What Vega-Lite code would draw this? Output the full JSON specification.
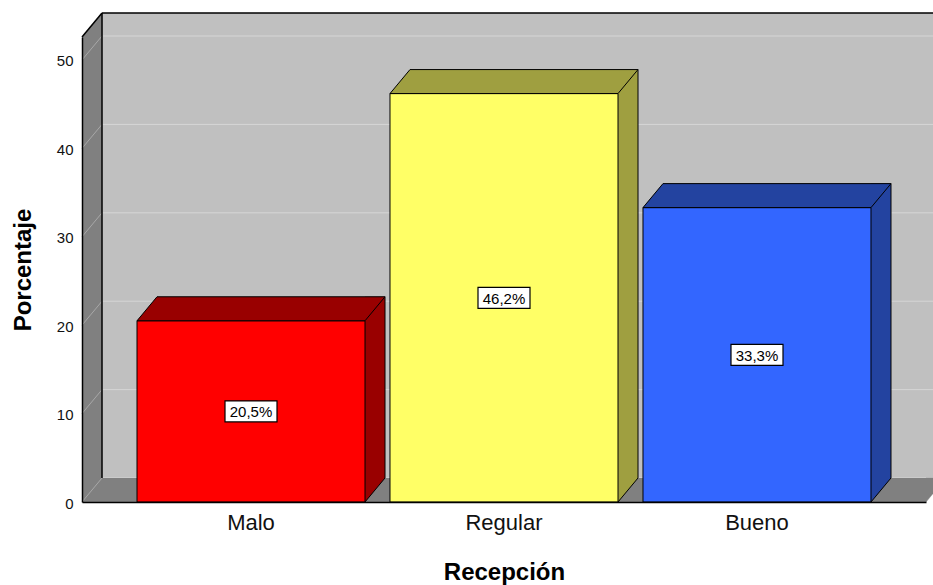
{
  "$schema": "https://vega.github.io/schema/vega-lite/v6.json",
  "width": 844,
  "height": 465,
  "autosize": {"type": "none"},
  "padding": {"left": 82, "top": 37, "right": 7, "bottom": 83},
  "background": "white",
  "config": {"view": {"stroke": null}, "font": "Liberation Sans"},
  "datasets": {
    "barras": [
      {"Recepcion": "Malo", "Porcentaje": 20.5, "Etiqueta": "20,5%"},
      {"Recepcion": "Regular", "Porcentaje": 46.2, "Etiqueta": "46,2%"},
      {"Recepcion": "Bueno", "Porcentaje": 33.3, "Etiqueta": "33,3%"}
    ],
    "rejilla": [{"valor": 0}, {"valor": 10}, {"valor": 20}, {"valor": 30}, {"valor": 40}, {"valor": 50}],
    "fondo": [{}]
  },
  "resolve": {"scale": {"x": "independent", "y": "independent"}},
  "layer": [
    {
      "layer": [
        {
          "data": {"name": "fondo"},
          "mark": {"type": "rect", "fill": "#c0c0c0", "xOffset": 20, "x2Offset": 20, "yOffset": -24, "y2Offset": -24},
          "encoding": {
            "x": {"datum": 0, "type": "quantitative", "scale": {"domain": [0, 1]}, "axis": null},
            "x2": {"datum": 1},
            "y": {"datum": 0, "type": "quantitative", "scale": {"domain": [0, 52.6], "nice": false}, "axis": null},
            "y2": {"datum": 52.6}
          }
        },
        {
          "data": {"name": "rejilla"},
          "mark": {"type": "rule", "color": "#d6d6d6", "strokeWidth": 1, "xOffset": 20, "x2Offset": 20, "yOffset": -24, "y2Offset": -24},
          "encoding": {
            "x": {"datum": 0, "type": "quantitative"},
            "x2": {"datum": 1},
            "y": {"field": "valor", "type": "quantitative"},
            "y2": {"field": "valor"}
          }
        },
        {
          "data": {"name": "fondo"},
          "mark": {"type": "rect", "fill": "#808080", "y2Offset": -24},
          "encoding": {
            "x": {"datum": 0, "type": "quantitative"},
            "x2": {"datum": 1},
            "y": {"datum": 0, "type": "quantitative"},
            "y2": {"datum": 0}
          }
        },
        {
          "data": {"name": "fondo"},
          "mark": {"type": "rect", "fill": "#808080", "x2Offset": 20},
          "encoding": {
            "x": {"datum": 0, "type": "quantitative"},
            "x2": {"datum": 0},
            "y": {"datum": 0, "type": "quantitative"},
            "y2": {"datum": 52.6}
          }
        },
        {
          "data": {"name": "fondo"},
          "mark": {"type": "point", "shape": "M0,0L20,-24L20,0Z", "size": 4, "filled": true, "fill": "#808080", "stroke": "#808080", "strokeWidth": 0.5, "opacity": 1},
          "encoding": {
            "x": {"datum": 0, "type": "quantitative"},
            "y": {"datum": 52.6, "type": "quantitative"}
          }
        },
        {
          "data": {"name": "fondo"},
          "mark": {"type": "point", "shape": "M0,0L20,-24L0,-24Z", "size": 4, "filled": true, "fill": "#808080", "stroke": "#808080", "strokeWidth": 0.5, "opacity": 1},
          "encoding": {
            "x": {"datum": 1, "type": "quantitative"},
            "y": {"datum": 0, "type": "quantitative"}
          }
        },
        {
          "data": {"name": "rejilla"},
          "mark": {"type": "rule", "color": "#a8a8a8", "strokeWidth": 1, "x2Offset": 20, "y2Offset": -24},
          "encoding": {
            "x": {"datum": 0, "type": "quantitative"},
            "x2": {"datum": 0},
            "y": {"field": "valor", "type": "quantitative"},
            "y2": {"field": "valor"}
          }
        },
        {
          "data": {"name": "fondo"},
          "mark": {"type": "rule", "color": "black", "strokeWidth": 1.5, "x2Offset": 20, "y2Offset": -24},
          "encoding": {
            "x": {"datum": 0, "type": "quantitative"},
            "x2": {"datum": 0},
            "y": {"datum": 52.6, "type": "quantitative"},
            "y2": {"datum": 52.6}
          }
        },
        {
          "data": {"name": "fondo"},
          "mark": {"type": "rule", "color": "black", "strokeWidth": 1.5, "xOffset": 20, "yOffset": -24, "y2Offset": -24},
          "encoding": {
            "x": {"datum": 0, "type": "quantitative"},
            "y": {"datum": 52.6, "type": "quantitative"},
            "y2": {"datum": 0}
          }
        },
        {
          "data": {"name": "fondo"},
          "mark": {"type": "rule", "color": "black", "strokeWidth": 1.5, "xOffset": 20, "x2Offset": 20, "yOffset": -24},
          "encoding": {
            "x": {"datum": 0, "type": "quantitative"},
            "x2": {"datum": 1},
            "y": {"datum": 52.6, "type": "quantitative"}
          }
        }
      ]
    },
    {
      "data": {"name": "barras"},
      "layer": [
        {
          "mark": {"type": "rule", "strokeWidth": 20, "strokeCap": "butt", "xOffset": 10, "yOffset": -24, "y2Offset": -24},
          "encoding": {
            "x": {"field": "Recepcion", "type": "nominal", "sort": null, "bandPosition": 1,
                  "scale": {"type": "band", "paddingInner": 0.0988, "paddingOuter": 0.2174},
                  "axis": {"orient": "bottom", "title": "Recepción", "labelAngle": 0, "ticks": false, "domain": true, "domainColor": "black", "domainWidth": 1.5,
                           "labelFontSize": 22, "labelColor": "#111111", "labelPadding": 10, "labelFont": "Liberation Sans",
                           "titleFontSize": 24, "titleFontWeight": "bold", "titleColor": "black", "titlePadding": 27, "titleFont": "Liberation Sans", "zindex": 2}},
            "y": {"field": "Porcentaje", "type": "quantitative", "scale": {"domain": [0, 52.6], "nice": false},
                  "axis": {"orient": "left", "title": "Porcentaje", "values": [0, 10, 20, 30, 40, 50], "grid": false, "ticks": false, "domain": true,
                           "domainColor": "black", "domainWidth": 1.5, "labelFontSize": 15, "labelColor": "#111111", "labelPadding": 9, "labelOffset": 1,
                           "titleFontSize": 24, "titleFontWeight": "bold", "titleColor": "black", "titlePadding": 21, "zindex": 2}},
            "y2": {"datum": 0},
            "color": {"field": "Recepcion", "type": "nominal", "scale": {"domain": ["Malo", "Regular", "Bueno"], "range": ["#990000", "#9f9f40", "#2343a0"]}, "legend": null}
          }
        },
        {
          "mark": {"type": "point", "shape": "M0,0L0,-24L20,-24Z", "size": 4, "filled": true, "opacity": 1, "strokeWidth": 0},
          "encoding": {
            "x": {"field": "Recepcion", "type": "nominal", "sort": null, "bandPosition": 1},
            "y": {"datum": 0, "type": "quantitative"},
            "color": {"field": "Recepcion", "type": "nominal", "legend": null}
          }
        },
        {
          "mark": {"type": "point", "shape": "M0,0L20,-24", "size": 4, "filled": false, "opacity": 1, "stroke": "black", "strokeWidth": 1},
          "encoding": {
            "x": {"field": "Recepcion", "type": "nominal", "sort": null, "bandPosition": 1},
            "y": {"datum": 0, "type": "quantitative"}
          }
        },
        {
          "mark": {"type": "rule", "color": "black", "strokeWidth": 1, "xOffset": 20, "yOffset": -24, "y2Offset": -24},
          "encoding": {
            "x": {"field": "Recepcion", "type": "nominal", "sort": null, "bandPosition": 1},
            "y": {"field": "Porcentaje", "type": "quantitative"},
            "y2": {"datum": 0}
          }
        },
        {
          "mark": {"type": "bar", "stroke": "black", "strokeWidth": 1},
          "encoding": {
            "x": {"field": "Recepcion", "type": "nominal", "sort": null},
            "y": {"field": "Porcentaje", "type": "quantitative"},
            "y2": {"datum": 0},
            "fill": {"field": "Recepcion", "type": "nominal", "scale": {"domain": ["Malo", "Regular", "Bueno"], "range": ["#ff0000", "#ffff66", "#3366ff"]}, "legend": null}
          }
        },
        {
          "mark": {"type": "point", "shape": "M0,0L20,-24L248,-24L228,0Z", "size": 4, "filled": true, "opacity": 1, "stroke": "black", "strokeWidth": 1},
          "encoding": {
            "x": {"field": "Recepcion", "type": "nominal", "sort": null, "bandPosition": 0},
            "y": {"field": "Porcentaje", "type": "quantitative"},
            "color": {"field": "Recepcion", "type": "nominal", "legend": null}
          }
        }
      ]
    },
    {
      "data": {"name": "barras"},
      "encoding": {
        "x": {"field": "Recepcion", "type": "nominal", "sort": null, "scale": {"type": "band", "paddingInner": 0.0988, "paddingOuter": 0.2174}, "axis": null},
        "y": {"field": "Porcentaje", "type": "quantitative", "scale": {"domain": [0, 105.2], "nice": false}, "axis": null}
      },
      "layer": [
        {
          "mark": {"type": "point", "shape": "M-26,-10.5H26V10.5H-26Z", "size": 4, "filled": true, "fill": "white", "stroke": "black", "strokeWidth": 1.2, "opacity": 1}
        },
        {
          "mark": {"type": "text", "fontSize": 15, "color": "black", "align": "center", "baseline": "middle", "font": "Liberation Sans", "dy": 1},
          "encoding": {"text": {"field": "Etiqueta"}}
        }
      ]
    }
  ]
}
